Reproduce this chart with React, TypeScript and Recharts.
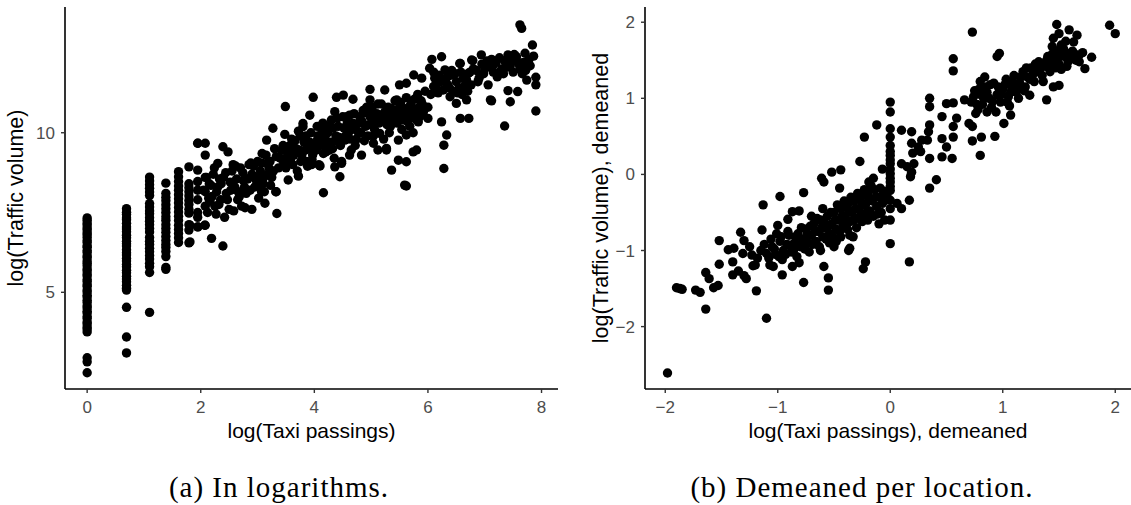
import React from 'react';
import { ScatterChart, Scatter, XAxis, YAxis } from 'recharts';

// Panel (a): log(taxi passings) vs log(traffic volume)
// locations with 1..8 passings sit on vertical columns (x = log n)
const colX = [0, 0.693, 1.099, 1.386, 1.609, 1.792, 1.946, 2.079];

const trafficAt1 = [7.33, 7.26, 7.17, 7.11, 7.02, 6.96, 6.87, 6.8, 6.72, 6.62, 6.56, 6.46, 6.41, 6.31, 6.25, 6.14, 6.08, 5.98, 5.91, 5.83, 5.73, 5.67, 5.57, 5.51, 5.4, 5.34, 5.24, 5.18, 5.07, 5.01, 4.91, 4.85, 4.75, 4.68, 4.58, 4.51, 4.41, 4.35, 4.24, 4.18, 4.07, 4.01, 3.91, 3.85, 3.76, 2.95, 2.82, 2.48];
const trafficAt2 = [7.62, 7.51, 7.44, 7.33, 7.27, 7.16, 7.05, 6.98, 6.9, 6.79, 6.71, 6.6, 6.52, 6.45, 6.33, 6.24, 6.17, 6.06, 5.98, 5.87, 5.8, 5.69, 5.61, 5.5, 5.42, 5.33, 5.22, 5.13, 5.07, 4.53, 3.6, 3.1];
const trafficAt3 = [8.61, 8.49, 8.37, 8.26, 8.14, 8.03, 7.78, 7.67, 7.55, 7.46, 7.34, 7.23, 7.12, 7.0, 6.89, 6.72, 6.6, 6.5, 6.38, 6.27, 6.15, 6.04, 5.91, 5.8, 5.62, 4.37];
const trafficAt4 = [8.42, 8.1, 7.98, 7.87, 7.74, 7.62, 7.5, 7.37, 7.26, 7.12, 7.0, 6.88, 6.75, 6.62, 6.5, 6.4, 6.28, 6.12, 5.78, 5.72];
const trafficAt5 = [8.78, 8.62, 8.47, 8.33, 8.2, 8.06, 7.93, 7.8, 7.66, 7.52, 7.38, 7.25, 7.1, 6.97, 6.84, 6.71, 6.56];
const trafficAt6 = [8.93, 8.4, 8.28, 8.15, 8.02, 7.88, 7.75, 7.6, 7.48, 7.12, 6.95, 6.55];
const trafficAt7 = [9.67, 8.83, 8.47, 8.2, 7.9, 7.5, 7.35, 7.05];
const trafficAt8 = [9.67, 9.3, 8.6, 8.15, 7.7, 7.1];
const columns = [trafficAt1, trafficAt2, trafficAt3, trafficAt4, trafficAt5, trafficAt6, trafficAt7, trafficAt8];

const cloudLow: [number, number][] = [
  [1.95, 9.67], [2.3, 9.04], [2.39, 9.56], [2.48, 9.4], [2.19, 6.69], [2.39, 6.45], [1.95, 7.05], [2.07, 7.1],
  [2.9, 7.6], [2.78, 7.65], [3.13, 7.79], [3.34, 7.47], [3.27, 10.14], [3.16, 9.77], [1.81, 6.58], [1.81, 7.1],
  [3.07, 8.15], [3.33, 8.15],
  [2.15, 8.4], [2.2, 8.0], [2.25, 7.7], [2.3, 8.3], [2.35, 7.9], [2.4, 8.6], [2.45, 8.1], [2.5, 7.6],
  [2.55, 8.8], [2.6, 8.3], [2.65, 7.9], [2.7, 8.9], [2.75, 8.5], [2.8, 8.1], [2.85, 9.0], [2.9, 8.7],
  [2.95, 8.3], [3.0, 9.1], [3.05, 8.8], [3.1, 8.4], [3.15, 9.3], [3.2, 8.9], [3.25, 8.6], [3.3, 9.5],
  [2.22, 8.7], [2.27, 7.45], [2.52, 8.45], [2.62, 8.95], [2.68, 8.0], [2.72, 7.7], [2.88, 9.05], [2.98, 8.5],
  [3.02, 7.95], [3.12, 8.15], [3.22, 9.1], [2.33, 8.55], [2.12, 7.5], [2.16, 7.85], [2.42, 7.35], [2.58, 7.55],
  [3.08, 9.35], [3.18, 8.7],
  [2.05, 8.2], [2.1, 8.6], [2.14, 7.95], [2.18, 8.35], [2.24, 8.9], [2.28, 8.15], [2.32, 7.75], [2.36, 8.4],
  [2.44, 8.75], [2.47, 7.9], [2.53, 8.2], [2.57, 9.0], [2.63, 8.55], [2.66, 8.15], [2.74, 8.75], [2.77, 8.3],
  [2.83, 8.55], [2.87, 8.2], [2.93, 8.95], [2.97, 8.6], [3.03, 8.35], [3.07, 9.05], [3.11, 8.6], [3.17, 9.05],
  [3.23, 8.35], [3.28, 8.8], [3.33, 9.25], [3.37, 8.9], [3.42, 9.45], [3.46, 9.05],
];

const cloudMid: [number, number][] = [
  [3.4, 9.2], [3.45, 9.6], [3.5, 8.9], [3.55, 9.4], [3.6, 9.8], [3.62, 9.0], [3.68, 9.5], [3.7, 8.8],
  [3.75, 9.9], [3.78, 9.3], [3.82, 9.7], [3.86, 9.1], [3.9, 9.5], [3.94, 10.0], [3.97, 9.3], [4.02, 9.7],
  [4.05, 10.2], [4.08, 9.0], [4.12, 9.8], [4.15, 10.3], [4.2, 9.4], [4.24, 10.0], [4.28, 9.7], [4.3, 10.4],
  [4.35, 9.2], [4.38, 9.9], [4.42, 10.2], [4.46, 9.6], [4.5, 10.5], [4.55, 9.9], [4.58, 10.3], [4.62, 9.3],
  [4.66, 10.1], [4.7, 10.6], [4.74, 9.8], [4.78, 10.3], [4.82, 10.0], [4.86, 10.7], [4.9, 10.2], [4.94, 9.9],
  [4.98, 10.5], [5.02, 10.8], [5.06, 10.1], [5.1, 10.6], [5.14, 10.3], [5.18, 10.9], [5.22, 9.8], [5.26, 10.5],
  [5.3, 10.8], [5.34, 10.2], [5.38, 10.6], [5.42, 11.0], [5.46, 10.3], [5.5, 10.8], [5.54, 10.1], [5.58, 10.6],
  [5.62, 11.1], [5.66, 10.4], [5.7, 10.9], [5.74, 10.0], [5.78, 10.7], [5.82, 11.2], [5.86, 10.5], [5.9, 10.9],
  [5.95, 11.3], [6.0, 10.8], [3.48, 9.95], [3.58, 9.15], [3.72, 10.05], [3.88, 8.95], [4.0, 9.5], [4.18, 9.6],
  [4.32, 9.5], [4.48, 9.1], [4.6, 10.0], [4.72, 9.6], [4.8, 10.5], [4.92, 10.8], [5.04, 9.9], [5.2, 10.4],
  [5.32, 10.0], [5.44, 10.6], [5.56, 10.4], [5.68, 10.2], [5.8, 10.4],
  [3.52, 9.25], [3.57, 9.6], [3.64, 9.3], [3.66, 9.75], [3.74, 9.45], [3.76, 9.1], [3.84, 9.45], [3.85, 9.9],
  [3.92, 9.7], [3.96, 9.15], [4.03, 9.45], [4.06, 9.9], [4.1, 9.6], [4.14, 10.05], [4.19, 9.8], [4.22, 10.2],
  [4.26, 9.45], [4.33, 10.15], [4.37, 9.75], [4.4, 10.45], [4.44, 9.85], [4.52, 10.15], [4.57, 10.5], [4.63, 9.8],
  [4.68, 10.3], [4.76, 10.05], [4.84, 10.35], [4.88, 9.75], [4.96, 10.25], [5.0, 10.6], [5.08, 10.35], [5.12, 10.9],
  [5.16, 10.55], [5.24, 10.65], [5.28, 10.25], [5.36, 10.75], [5.4, 10.45], [5.48, 10.5], [5.52, 10.95], [5.6, 10.75],
  [5.64, 10.35], [5.72, 10.6], [5.76, 11.05], [5.84, 10.8], [5.88, 11.0], [5.92, 10.65],
  [5.12, 9.46], [5.27, 9.46], [5.24, 11.34], [5.45, 11.03], [4.98, 11.36], [4.98, 11.03], [4.86, 10.61],
  [4.68, 11.05], [4.51, 11.18], [4.39, 11.11], [3.98, 11.11], [3.49, 10.82], [4.62, 10.55], [4.36, 10.66],
  [3.92, 10.55], [3.8, 10.29], [3.8, 10.19], [4.83, 9.3], [4.65, 9.46], [4.45, 8.62], [4.16, 8.12], [3.32, 8.15],
  [3.72, 8.64], [3.54, 8.52], [4.1, 8.96], [3.95, 9.0], [4.36, 8.93], [4.48, 9.04], [4.6, 10.03], [4.54, 9.77],
  [4.21, 9.56], [4.16, 9.35], [5.04, 9.67], [5.15, 9.98], [5.33, 10.4], [5.5, 10.71], [5.68, 10.82], [5.68, 10.5],
  [5.8, 9.46], [5.74, 9.4], [5.59, 8.36], [5.62, 8.33], [5.62, 9.09], [5.48, 9.14], [5.36, 8.83], [5.62, 9.93],
  [5.48, 9.77], [5.75, 11.81], [5.62, 11.55], [5.5, 11.5], [5.89, 11.71], [5.83, 10.34], [5.27, 9.51],
];

const cloudHigh: [number, number][] = [
  [7.62, 13.38], [7.65, 13.27], [7.84, 12.75], [7.9, 11.74], [7.9, 11.5], [7.9, 10.68], [7.35, 10.21], [7.1, 11.03],
  [7.41, 11.32], [7.45, 10.97], [7.58, 11.29], [7.74, 11.65], [7.71, 12.49], [7.74, 12.12], [7.56, 12.38], [7.41, 12.44],
  [7.27, 11.91], [7.09, 12.07], [7.06, 11.5], [6.94, 12.44], [6.9, 11.71], [6.77, 12.28], [6.71, 11.86], [6.72, 10.45],
  [6.57, 10.45], [6.57, 12.17], [6.68, 11.03], [6.5, 10.92], [6.39, 11.13], [6.24, 12.38], [6.07, 12.3], [6.03, 12.02],
  [6.3, 11.97], [6.12, 11.71], [6.27, 11.34], [6.24, 10.34], [6.33, 9.93], [6.28, 9.61], [6.28, 8.88], [6.0, 10.45],
  [6.35, 11.5], [6.4, 11.8], [6.45, 11.3], [6.5, 11.6], [6.55, 11.4], [6.6, 11.2], [6.62, 11.7], [6.66, 11.5],
  [6.7, 11.3], [6.74, 11.9], [6.42, 11.95], [6.3, 11.6], [6.2, 11.8], [6.15, 11.5], [6.1, 11.9], [7.0, 12.0],
  [7.15, 11.9], [7.2, 12.2], [7.3, 12.0], [7.45, 12.1], [7.5, 11.9], [7.55, 12.3], [7.62, 12.0], [7.68, 12.2],
  [7.72, 11.95], [7.78, 12.3], [7.35, 12.25], [6.85, 11.95], [6.95, 12.15], [7.12, 11.0],
  [6.05, 11.2], [6.1, 11.45], [6.18, 11.25], [6.22, 11.6], [6.34, 11.75], [6.38, 11.4], [6.48, 11.85], [6.52, 11.25],
  [6.58, 11.9], [6.64, 11.35], [6.68, 11.65], [6.76, 11.5], [6.8, 12.0], [6.88, 11.6], [6.98, 11.85], [7.04, 12.25],
  [7.12, 12.3], [7.22, 11.75], [7.26, 12.35], [7.33, 11.85], [7.38, 12.05], [7.48, 12.25], [7.52, 12.45], [7.6, 12.15],
  [7.66, 11.85], [7.8, 12.1], [7.86, 12.4], [6.56, 12.17], [6.79, 12.26], [7.15, 12.12],
];

// Panel (b): both variables demeaned per location
const demeanedLow: [number, number][] = [
  [-1.98, -2.61], [-1.9, -1.49], [-1.87, -1.5], [-1.85, -1.51], [-1.73, -1.52], [-1.69, -1.55], [-1.64, -1.77],
  [-1.64, -1.29], [-1.61, -1.37], [-1.57, -1.49], [-1.53, -1.46], [-1.52, -1.18], [-1.52, -0.87], [-1.44, -0.99],
  [-1.39, -0.97], [-1.4, -1.15], [-1.4, -1.32], [-1.33, -0.76], [-1.3, -0.87], [-1.31, -1.04], [-1.35, -1.27],
  [-1.3, -1.33], [-1.28, -1.37], [-1.23, -1.06], [-1.2, -1.19], [-1.19, -1.53], [-1.1, -1.89], [-1.13, -0.4],
  [-1.14, -0.73], [-1.1, -1.04], [-1.07, -1.19], [-1.04, -1.21], [-0.98, -0.29], [-1.0, -0.67], [-1.01, -0.78],
  [-0.96, -1.32], [-0.91, -0.59], [-0.87, -0.49], [-0.81, -0.48], [-0.77, -0.24], [-0.77, -1.42], [-0.87, -1.21],
  [-0.81, -1.16], [-0.61, -0.05], [-0.59, -0.1], [-0.52, 0.03], [-0.44, 0.06], [-0.45, -0.18], [-0.59, -1.21],
  [-0.55, -1.36], [-0.55, -1.52],
];

const demeanedCore: [number, number][] = [
  [-1.05, -0.95], [-1.02, -1.05], [-0.98, -0.88], [-0.95, -1.0], [-0.92, -0.92], [-0.9, -0.8], [-0.88, -1.02],
  [-0.85, -0.9], [-0.82, -0.78], [-0.8, -0.95], [-0.78, -0.85], [-0.75, -0.72], [-0.73, -0.9], [-0.7, -0.8],
  [-0.68, -0.65], [-0.66, -0.88], [-0.64, -0.75], [-0.62, -0.6], [-0.6, -0.82], [-0.58, -0.7], [-0.56, -0.55],
  [-0.54, -0.78], [-0.52, -0.65], [-0.5, -0.5], [-0.48, -0.72], [-0.46, -0.6], [-0.44, -0.45], [-0.42, -0.68],
  [-0.4, -0.55], [-0.38, -0.4], [-0.36, -0.62], [-0.34, -0.5], [-0.32, -0.35], [-0.3, -0.58], [-0.28, -0.45],
  [-0.26, -0.3], [-0.24, -0.52], [-0.22, -0.4], [-0.2, -0.25], [-0.18, -0.48], [-0.16, -0.35], [-0.14, -0.2],
  [-0.12, -0.42], [-0.1, -0.3], [-0.08, -0.5], [-0.06, -0.22], [-1.08, -1.1], [-0.96, -1.12], [-0.86, -1.0],
  [-0.76, -0.98], [-0.7, -0.55], [-0.6, -0.45], [-0.54, -0.9], [-0.44, -0.82], [-0.38, -0.72], [-0.3, -0.7],
  [-0.25, -0.62], [-0.2, -0.6], [-0.15, -0.55], [-0.1, -0.65],
  [-1.12, -0.92], [-1.06, -0.85], [-1.03, -0.98], [-0.99, -1.08], [-0.97, -0.82], [-0.93, -1.05], [-0.91, -0.75],
  [-0.89, -0.93], [-0.84, -0.82], [-0.83, -1.08], [-0.79, -0.7], [-0.77, -0.9], [-0.74, -0.8], [-0.72, -1.02],
  [-0.71, -0.68], [-0.69, -0.92], [-0.67, -0.75], [-0.65, -0.58], [-0.63, -0.95], [-0.61, -0.7], [-0.59, -0.62],
  [-0.57, -0.85], [-0.55, -0.68], [-0.53, -0.5], [-0.51, -0.82], [-0.49, -0.6], [-0.47, -0.4], [-0.45, -0.75],
  [-0.43, -0.55], [-0.41, -0.35], [-0.39, -0.62], [-0.37, -0.48], [-0.35, -0.3], [-0.33, -0.6], [-0.31, -0.45],
  [-0.29, -0.25], [-0.27, -0.55], [-0.25, -0.38], [-0.23, -0.2], [-0.21, -0.5], [-0.19, -0.32], [-0.17, -0.15],
  [-0.13, -0.3], [-0.11, -0.52], [-0.09, -0.18], [-0.07, -0.38], [-0.03, -0.28], [-1.15, -1.0], [-1.18, -1.1],
  [-1.25, -0.95], [-1.22, -1.2], [-0.62, -1.0], [-0.5, -0.95], [-0.48, -0.88],
  [-0.12, 0.65], [-0.23, 0.49], [-0.27, 0.17], [-0.07, 0.07], [-0.15, -0.05], [-0.19, -0.1], [-0.04, -0.34],
  [0.06, -0.38], [0.1, -0.45], [-0.05, -0.6], [-0.22, -1.15], [-0.24, -1.24], [-0.36, -0.8], [-0.36, -0.97],
  [-0.37, -1.0], [-0.33, -0.82],
];

const demeanedZero = [0.95, 0.82, 0.6, 0.49, 0.38, 0.3, 0.25, 0.19, 0.14, 0.07, 0.01, -0.05, -0.1, -0.16, -0.21, -0.34, -0.45, -0.6, -0.91];

const demeanedHigh: [number, number][] = [
  [1.48, 1.97], [1.59, 1.9], [1.66, 1.83], [1.5, 1.85], [1.45, 1.79], [1.95, 1.96], [2.0, 1.85], [0.73, 1.87],
  [0.97, 1.59], [0.95, 1.55], [0.56, 1.52], [0.56, 1.36], [1.79, 1.54], [1.73, 1.39], [1.68, 1.57], [1.6, 1.59],
  [1.63, 1.74], [1.52, 1.7], [1.39, 0.98], [1.24, 1.04], [1.45, 1.15], [1.5, 1.17], [1.07, 0.78], [1.01, 0.67],
  [0.93, 0.5], [0.8, 0.25], [0.81, 0.49], [0.73, 0.44], [0.7, 0.67], [0.73, 0.63], [0.66, 0.98], [0.46, 0.76],
  [0.5, 0.93], [0.56, 0.94], [0.59, 0.74], [0.56, 0.63], [0.56, 0.49], [0.35, 1.0], [0.35, 0.89], [0.35, 0.65],
  [0.34, 0.56], [0.33, 0.45], [0.35, 0.21], [0.35, -0.18], [0.41, -0.07], [0.55, 0.21], [0.46, 0.23], [0.46, 0.47],
  [0.5, 0.36], [0.28, 0.45], [0.25, 0.36], [0.27, 0.3], [0.19, 0.56], [0.19, 0.41], [0.2, 0.28], [0.21, 0.14],
  [0.19, 0.03], [0.1, 0.58], [0.1, 0.14], [0.15, 0.1], [0.18, -0.03], [0.17, -0.34], [0.17, -1.15],
  [0.72, 0.95], [0.75, 1.1], [0.78, 0.85], [0.8, 1.05], [0.82, 0.92], [0.85, 1.15], [0.88, 1.0], [0.9, 0.88],
  [0.92, 1.2], [0.95, 1.05], [0.98, 0.95], [1.0, 1.12], [1.03, 1.25], [1.05, 1.02], [1.08, 1.15], [1.1, 1.3],
  [1.12, 1.08], [1.15, 1.2], [1.18, 1.35], [1.2, 1.15], [1.22, 1.28], [1.25, 1.4], [1.28, 1.22], [1.3, 1.35],
  [1.32, 1.48], [1.35, 1.3], [1.38, 1.42], [1.4, 1.55], [1.42, 1.35], [1.45, 1.5], [1.48, 1.62], [1.5, 1.45],
  [1.52, 1.38], [1.55, 1.55], [1.58, 1.48], [1.62, 1.62], [1.65, 1.5], [0.84, 1.28], [0.8, 1.22], [0.76, 0.8],
  [0.86, 0.82], [0.94, 0.82], [1.06, 0.9], [1.14, 1.0],
  [0.74, 1.02], [0.77, 0.92], [0.79, 1.12], [0.83, 1.0], [0.86, 1.08], [0.89, 1.18], [0.91, 0.96], [0.96, 1.15],
  [0.99, 1.05], [1.02, 1.18], [1.04, 0.95], [1.07, 1.08], [1.09, 1.22], [1.13, 1.15], [1.16, 1.28], [1.19, 1.1],
  [1.21, 1.4], [1.24, 1.25], [1.27, 1.32], [1.29, 1.45], [1.33, 1.38], [1.36, 1.22], [1.39, 1.5], [1.41, 1.42],
  [1.44, 1.58], [1.47, 1.4], [1.51, 1.55], [1.54, 1.65], [1.57, 1.42], [1.6, 1.52], [1.64, 1.58], [1.68, 1.48],
  [1.71, 1.6], [1.56, 1.75], [1.44, 1.68],
];

const leftXTicks = [0, 2, 4, 6, 8];
const leftYTicks = [5, 10];
const rightXTicks = [-2, -1, 0, 1, 2];
const rightYTicks = [-2, -1, 0, 1, 2];

const toPoints = (pairs: [number, number][]) => pairs.map(([x, y]) => ({ x, y }));

const leftData = [
  ...columns.flatMap((ys, i) => ys.map((y) => ({ x: colX[i], y }))),
  ...toPoints(cloudLow),
  ...toPoints(cloudMid),
  ...toPoints(cloudHigh),
];

const rightData = [
  ...toPoints(demeanedLow),
  ...toPoints(demeanedCore),
  ...demeanedZero.map((y) => ({ x: 0, y })),
  ...toPoints(demeanedHigh),
];

const sans = '"Liberation Sans", Arial, Helvetica, sans-serif';
const serif = '"Liberation Serif", "Times New Roman", serif';

const minus = (v: number) => (v < 0 ? `\u2212${Math.abs(v)}` : String(v));

const Dot = (props: any) => <circle cx={props.cx} cy={props.cy} r={4.7} fill="#000" />;

const tickStyle = { fill: '#4d4d4d', fontSize: 17, fontFamily: sans };
const axisLineStyle = { stroke: '#000', strokeWidth: 1.6 };
const tickLineStyle = { stroke: '#333', strokeWidth: 1.4 };

const xTitle: React.CSSProperties = {
  position: 'absolute', top: 420, fontFamily: sans, fontSize: 21, lineHeight: '21px',
  color: '#000', whiteSpace: 'nowrap', transform: 'translateX(-50%)',
};
const yTitle: React.CSSProperties = {
  position: 'absolute', top: 198, fontFamily: sans, fontSize: 21.5, lineHeight: '21px',
  color: '#000', whiteSpace: 'nowrap', transform: 'translate(-50%, -50%) rotate(-90deg)',
};
const caption: React.CSSProperties = {
  position: 'absolute', top: 473, fontFamily: serif, fontSize: 29, lineHeight: '29px',
  letterSpacing: 1, color: '#000', whiteSpace: 'nowrap', transform: 'translateX(-50%)',
};

export default function App() {
  return (
    <div style={{ position: 'absolute', left: 0, top: 0, width: 1131, height: 505, background: '#fff', overflow: 'hidden' }}>
      <div style={{ position: 'absolute', left: 0, top: 0 }}>
        <ScatterChart width={570} height={420} margin={{ top: 7, right: 12, bottom: 0, left: 0 }}>
          <XAxis type="number" dataKey="x" domain={[-0.39, 8.29]} ticks={leftXTicks} height={31}
            tick={tickStyle} axisLine={axisLineStyle} tickLine={tickLineStyle} tickSize={4} tickMargin={8} />
          <YAxis type="number" dataKey="y" domain={[1.97, 13.94]} ticks={leftYTicks} width={65}
            tick={tickStyle} axisLine={axisLineStyle} tickLine={tickLineStyle} tickSize={4} tickMargin={6} />
          <Scatter data={leftData} shape={Dot} isAnimationActive={false} />
        </ScatterChart>
      </div>
      <div style={{ position: 'absolute', left: 580, top: 0 }}>
        <ScatterChart width={551} height={420} margin={{ top: 7, right: 0, bottom: 0, left: 0 }}>
          <XAxis type="number" dataKey="x" domain={[-2.18, 2.14]} ticks={rightXTicks} height={31}
            tick={tickStyle} axisLine={axisLineStyle} tickLine={tickLineStyle} tickSize={4} tickMargin={8}
            tickFormatter={minus} />
          <YAxis type="number" dataKey="y" domain={[-2.82, 2.2]} ticks={rightYTicks} width={65}
            tick={tickStyle} axisLine={axisLineStyle} tickLine={tickLineStyle} tickSize={4} tickMargin={6}
            tickFormatter={minus} />
          <Scatter data={rightData} shape={Dot} isAnimationActive={false} />
        </ScatterChart>
      </div>

      <div style={{ ...xTitle, left: 311.5 }}>log(Taxi passings)</div>
      <div style={{ ...xTitle, left: 888 }}>log(Taxi passings), demeaned</div>
      <div style={{ ...yTitle, left: 16 }}>log(Traffic volume)</div>
      <div style={{ ...yTitle, left: 600.5 }}>log(Traffic volume), demeaned</div>

      <div style={{ ...caption, left: 279 }}>(a) In logarithms.</div>
      <div style={{ ...caption, left: 862 }}>(b) Demeaned per location.</div>
    </div>
  );
}
